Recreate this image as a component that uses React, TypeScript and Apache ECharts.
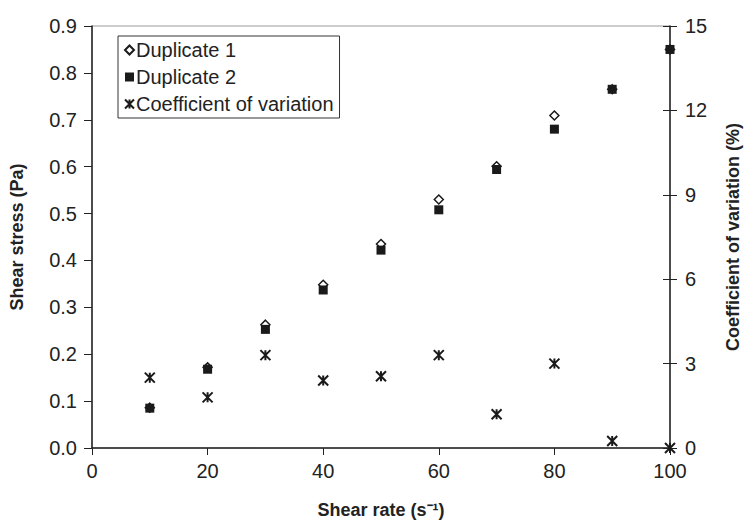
import React, { useEffect, useRef } from "react";
import * as echarts from "echarts";

const shearRate = [10, 20, 30, 40, 50, 60, 70, 80, 90, 100];
const duplicate1 = [0.086, 0.172, 0.263, 0.348, 0.435, 0.53, 0.601, 0.709, 0.765, 0.85];
const duplicate2 = [0.085, 0.168, 0.253, 0.337, 0.422, 0.508, 0.594, 0.68, 0.765, 0.85];
const coefVar = [2.5, 1.8, 3.3, 2.4, 2.55, 3.3, 1.2, 3.0, 0.25, 0];

const FONT = "'Liberation Sans', Arial, sans-serif";
const ASTERISK = "path://M0,0 L10,10 M10,0 L0,10 M5,0 L5,10";

export default function App() {
  const ref = useRef<HTMLDivElement>(null);
  useEffect(() => {
    if (!ref.current) return;
    const chart = echarts.init(ref.current, undefined, { renderer: "svg" });
    const pair = (ys: number[]) => shearRate.map((x, i) => [x, ys[i]]);
    chart.setOption({
      animation: false,
      backgroundColor: "#fff",
      textStyle: { fontFamily: FONT },
      grid: {
        left: 91,
        right: 77,
        top: 26,
        bottom: 76,
        show: true,
        borderColor: "#9a9a9a",
        borderWidth: 1,
      },
      legend: {
        orient: "vertical",
        left: 118,
        top: 36,
        padding: [4, 6, 4, 6],
        borderColor: "#333",
        borderWidth: 1,
        itemWidth: 9,
        itemHeight: 9,
        itemGap: 7,
        textStyle: { fontSize: 20, color: "#222", fontFamily: FONT, padding: [0, 0, 0, -3] },
        data: ["Duplicate 1", "Duplicate 2", "Coefficient of variation"],
      },
      xAxis: {
        type: "value",
        min: 0,
        max: 100,
        interval: 20,
        name: "Shear rate (s⁻¹)",
        nameLocation: "middle",
        nameGap: 53,
        nameTextStyle: { fontSize: 18, fontWeight: "bold", color: "#222", fontFamily: FONT },
        axisLine: { lineStyle: { color: "#222", width: 1.5 } },
        axisTick: { show: true, length: 7, lineStyle: { color: "#222" } },
        axisLabel: { fontSize: 20, color: "#222", margin: 13 },
        splitLine: { show: false },
      },
      yAxis: [
        {
          type: "value",
          min: 0,
          max: 0.9,
          interval: 0.1,
          position: "left",
          name: "Shear stress (Pa)",
          nameLocation: "middle",
          nameRotate: 90,
          nameGap: 66,
          nameTextStyle: { fontSize: 18, fontWeight: "bold", color: "#222", fontFamily: FONT },
          axisLine: { show: true, lineStyle: { color: "#222", width: 1.5 } },
          axisTick: { show: true, length: 8, lineStyle: { color: "#222" } },
          axisLabel: {
            fontSize: 20,
            color: "#222",
            margin: 15,
            formatter: (v: number) => v.toFixed(1),
          },
          splitLine: { show: false },
        },
        {
          type: "value",
          min: 0,
          max: 15,
          interval: 3,
          position: "right",
          name: "Coefficient of variation (%)",
          nameLocation: "middle",
          nameRotate: 90,
          nameGap: 54,
          nameTextStyle: { fontSize: 18, fontWeight: "bold", color: "#222", fontFamily: FONT },
          axisLine: { show: true, lineStyle: { color: "#222", width: 1.5 } },
          axisTick: { show: true, length: 7, lineStyle: { color: "#222" } },
          axisLabel: { fontSize: 20, color: "#222", margin: 15 },
          splitLine: { show: false },
        },
        {
          type: "value",
          min: 0,
          max: 15,
          interval: 3,
          position: "right",
          axisLine: { show: false },
          axisTick: { show: true, inside: true, length: 7, lineStyle: { color: "#222" } },
          axisLabel: { show: false },
          splitLine: { show: false },
        },
      ],
      series: [
        {
          name: "Duplicate 2",
          type: "scatter",
          yAxisIndex: 0,
          symbol: "rect",
          symbolSize: 9,
          clip: false,
          itemStyle: { color: "#1a1a1a", opacity: 1 },
          data: pair(duplicate2),
          z: 2,
        },
        {
          name: "Duplicate 1",
          type: "scatter",
          yAxisIndex: 0,
          symbol: "diamond",
          symbolSize: 9,
          clip: false,
          itemStyle: { color: "#fff", borderColor: "#1a1a1a", borderWidth: 1.5, opacity: 1 },
          data: pair(duplicate1),
          z: 1,
        },
        {
          name: "Coefficient of variation",
          type: "scatter",
          yAxisIndex: 1,
          symbol: ASTERISK,
          symbolSize: 10,
          clip: false,
          itemStyle: { color: "transparent", borderColor: "#1a1a1a", borderWidth: 2, opacity: 1 },
          data: pair(coefVar),
          z: 3,
        },
      ],
    });
    return () => chart.dispose();
  }, []);
  return <div ref={ref} style={{ width: 750, height: 524, position: "absolute", left: 0, top: 0 }} />;
}
